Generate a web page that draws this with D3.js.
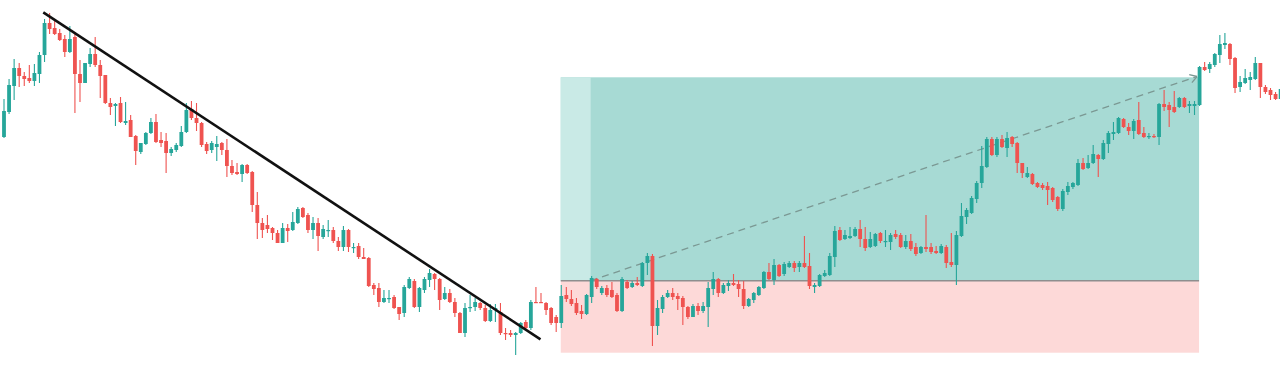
<!DOCTYPE html>
<html>
<head>
<meta charset="utf-8">
<script src="https://cdn.jsdelivr.net/npm/d3@7"></script>
<style>
html,body{margin:0;padding:0;background:#ffffff;overflow:hidden;}
svg{display:block;}
</style>
</head>
<body>
<svg id="chart" width="1280" height="379"></svg>
<script>
const open = [
263,288,314,332,324,322,319,326,345,377,
372,367,361,348,363,326,317,336,346,335,
325,297,294,297,277,280,264,248,256,267,
278,260,259,247,250,254,268,291,282,277,
256,250,253,257,250,234,228,226,235,228,
195,177,175,172,167,157,172,170,177,192,
185,170,177,163,169,170,159,153,170,152,
154,143,142,115,112,98,101,103,93,87,
112,119,93,110,120,126,121,101,107,98,
87,67,92,93,97,92,79,90,88,67,
67,65,67,78,72,98,98,97,92,83,
77,105,101,97,89,86,103,121,107,112,
110,105,89,118,113,117,114,137,144,74,
91,103,107,104,102,93,83,94,89,93,
111,121,107,114,117,116,111,94,100,105,
112,128,120,135,126,133,137,133,137,134,
113,114,124,125,143,170,161,162,164,171,
161,153,154,167,158,158,166,165,153,159,
153,147,153,153,149,147,153,138,135,164,
183,187,201,217,233,261,245,261,252,263,
257,237,223,226,217,215,214,212,203,191,
208,213,215,237,232,237,245,241,256,266,
267,281,273,269,280,267,263,264,263,296,
295,293,293,302,294,294,295,333,331,335,
345,355,356,342,313,317,320,321,337,313,
310,306,301];
const high = [
301,321,341,337,328,335,336,348,381,387,
379,371,365,374,368,340,337,352,363,340,
325,302,297,303,298,285,265,257,268,282,
286,268,267,253,257,274,297,299,297,278,
258,259,264,258,261,240,237,236,236,229,
208,182,185,173,170,177,176,188,193,193,
187,183,182,175,180,173,163,174,171,157,
157,152,143,117,117,110,110,105,93,115,
123,121,113,123,131,127,122,113,111,102,
88,97,105,102,98,95,96,96,97,72,
70,68,78,80,100,113,107,98,93,85,
115,113,110,102,95,106,124,122,114,115,
118,107,123,120,119,123,138,147,146,100,
105,110,112,107,104,94,96,97,98,118,
128,122,117,120,126,120,119,102,108,114,
129,137,141,136,138,139,139,139,164,147,
117,126,130,147,174,173,170,173,173,180,
173,168,167,168,170,167,170,167,165,166,
157,154,185,157,154,156,155,167,169,197,
192,204,219,254,263,263,263,265,268,264,
258,237,233,227,218,217,218,213,204,211,
218,218,241,242,245,255,246,260,269,278,
283,282,277,281,298,273,267,266,297,310,
298,309,303,303,299,299,334,338,338,347,
365,367,357,343,324,331,328,343,337,315,
312,308,313];
const low = [
262,286,300,313,314,317,314,317,338,366,
365,359,343,347,287,298,317,333,333,302,
296,285,274,277,275,263,235,246,255,266,
257,253,227,244,248,253,267,280,269,253,
246,247,239,245,223,225,225,218,226,188,
161,162,167,160,157,157,158,169,176,182,
167,161,149,161,163,157,149,149,148,147,
141,141,113,105,93,97,97,91,80,83,
111,92,88,107,113,110,90,100,97,83,
67,63,88,89,90,78,78,78,65,60,
63,45,66,70,70,97,97,85,75,68,
72,98,94,85,81,85,97,111,105,103,
102,88,88,111,112,114,113,125,54,65,
87,102,100,90,75,81,83,85,87,73,
105,103,106,109,114,103,91,93,97,104,
111,120,115,123,124,132,128,128,132,111,
107,113,123,124,133,159,160,161,163,153,
149,152,153,157,153,150,161,152,151,149,
144,146,148,146,146,146,132,133,115,163,
176,186,197,212,232,244,243,252,243,253,
227,222,222,215,212,210,195,198,189,189,
205,211,214,230,231,236,223,240,247,260,
266,272,265,261,265,262,261,262,255,289,
273,287,292,292,287,285,294,329,327,333,
337,351,335,307,308,316,310,320,302,306,
300,300,300];
const close = [
289,315,332,324,321,319,327,345,377,371,
366,360,348,361,326,317,337,346,335,324,
297,293,296,278,279,263,249,257,267,278,
258,257,247,251,255,268,290,282,277,255,
249,257,256,250,234,227,226,235,227,195,
177,170,171,167,157,172,169,178,191,183,
170,177,164,171,170,159,153,170,153,153,
143,141,114,111,98,102,102,92,86,113,
121,93,112,121,127,121,100,107,98,87,
67,92,93,98,92,79,90,92,67,66,
65,67,77,72,98,97,97,90,77,77,
104,101,96,87,86,105,122,113,112,105,
103,89,121,112,117,115,137,144,74,92,
103,107,103,101,93,83,94,89,94,112,
121,107,115,117,115,111,94,101,107,113,
128,121,135,124,136,137,132,137,133,114,
115,125,127,144,169,160,165,164,171,161,
152,161,166,159,159,165,163,153,159,151,
146,153,151,148,147,154,137,135,165,184,
190,202,217,234,261,245,261,253,262,256,
237,227,227,216,213,212,210,200,191,209,
214,217,237,231,237,246,241,257,267,268,
282,273,269,279,266,263,264,263,296,293,
290,288,302,293,296,296,333,330,336,346,
356,357,341,312,318,322,323,337,313,308,
305,301,311];

// Long position tool (index / price values)
const positionStart = 109.9;
const positionLightEnd = 115.8;
const positionEnd = 235.9;
const entryPrice = 119.3;
const targetPrice = 322.7;
const stopPrice = 47.3;
// Trend line anchors [index, price]
const trendLine = [[7.75, 387.7], [105.9, 60.7]];
// Projection arrow anchors [index, price]
const projection = [[115.8, 119.3], [235.5, 323.5]];

const W = 1280, H = 379;
const svg = d3.select("#chart");
const n = open.length;
const candles = d3.range(n).map(i => ({i, o: open[i], h: high[i], l: low[i], c: close[i]}));

const x = d3.scaleLinear().domain([0, n - 1]).range([4, 4 + (n - 1) * 5.066]);
const y = d3.scaleLinear().domain([0, 400]).range([400, 0]);

const UP = "#26a69a", DOWN = "#ef5350";

// position boxes
const g0 = svg.append("g");
g0.append("rect")
  .attr("x", x(positionStart)).attr("y", y(targetPrice))
  .attr("width", x(positionEnd) - x(positionStart))
  .attr("height", y(entryPrice) - y(targetPrice))
  .attr("fill", "#a7dad4");
g0.append("rect")
  .attr("x", x(positionStart)).attr("y", y(targetPrice))
  .attr("width", x(positionLightEnd) - x(positionStart))
  .attr("height", y(entryPrice) - y(targetPrice))
  .attr("fill", "#c9eae6");
g0.append("rect")
  .attr("x", x(positionStart)).attr("y", y(entryPrice))
  .attr("width", x(positionEnd) - x(positionStart))
  .attr("height", y(stopPrice) - y(entryPrice))
  .attr("fill", "#fdd9d8");
g0.append("line")
  .attr("x1", x(positionStart)).attr("x2", x(positionEnd))
  .attr("y1", y(entryPrice)).attr("y2", y(entryPrice))
  .attr("stroke", "#8e8e8e").attr("stroke-width", 1.5);

// projection dashed line with arrow
const px1 = x(projection[0][0]), py1 = y(projection[0][1]);
const px2 = x(projection[1][0]), py2 = y(projection[1][1]);
g0.append("line")
  .attr("x1", px1).attr("y1", py1).attr("x2", px2).attr("y2", py2)
  .attr("stroke", "#7b9893").attr("stroke-width", 1.3)
  .attr("stroke-dasharray", "7,5");
const ang = Math.atan2(py2 - py1, px2 - px1);
[-0.55, 0.55].forEach(d => {
  g0.append("line")
    .attr("x1", px2).attr("y1", py2)
    .attr("x2", px2 - 8 * Math.cos(ang + d)).attr("y2", py2 - 8 * Math.sin(ang + d))
    .attr("stroke", "#7b9893").attr("stroke-width", 1.3);
});

// candles
const gc = svg.append("g");
const bw = 3.8;
gc.selectAll("line.wick").data(candles).join("line")
  .attr("class", "wick")
  .attr("x1", d => x(d.i)).attr("x2", d => x(d.i))
  .attr("y1", d => y(d.h)).attr("y2", d => y(d.l))
  .attr("stroke", d => d.c >= d.o ? UP : DOWN).attr("stroke-width", 1.1);
gc.selectAll("rect.body").data(candles).join("rect")
  .attr("class", "body")
  .attr("x", d => x(d.i) - bw / 2)
  .attr("y", d => y(Math.max(d.o, d.c)))
  .attr("width", bw)
  .attr("height", d => Math.max(1.2, Math.abs(y(d.o) - y(d.c))))
  .attr("fill", d => d.c >= d.o ? UP : DOWN);

// trend line
svg.append("line")
  .attr("x1", x(trendLine[0][0])).attr("y1", y(trendLine[0][1]))
  .attr("x2", x(trendLine[1][0])).attr("y2", y(trendLine[1][1]))
  .attr("stroke", "#111111").attr("stroke-width", 2.6)
  .attr("stroke-linecap", "butt");
</script>
</body>
</html>
